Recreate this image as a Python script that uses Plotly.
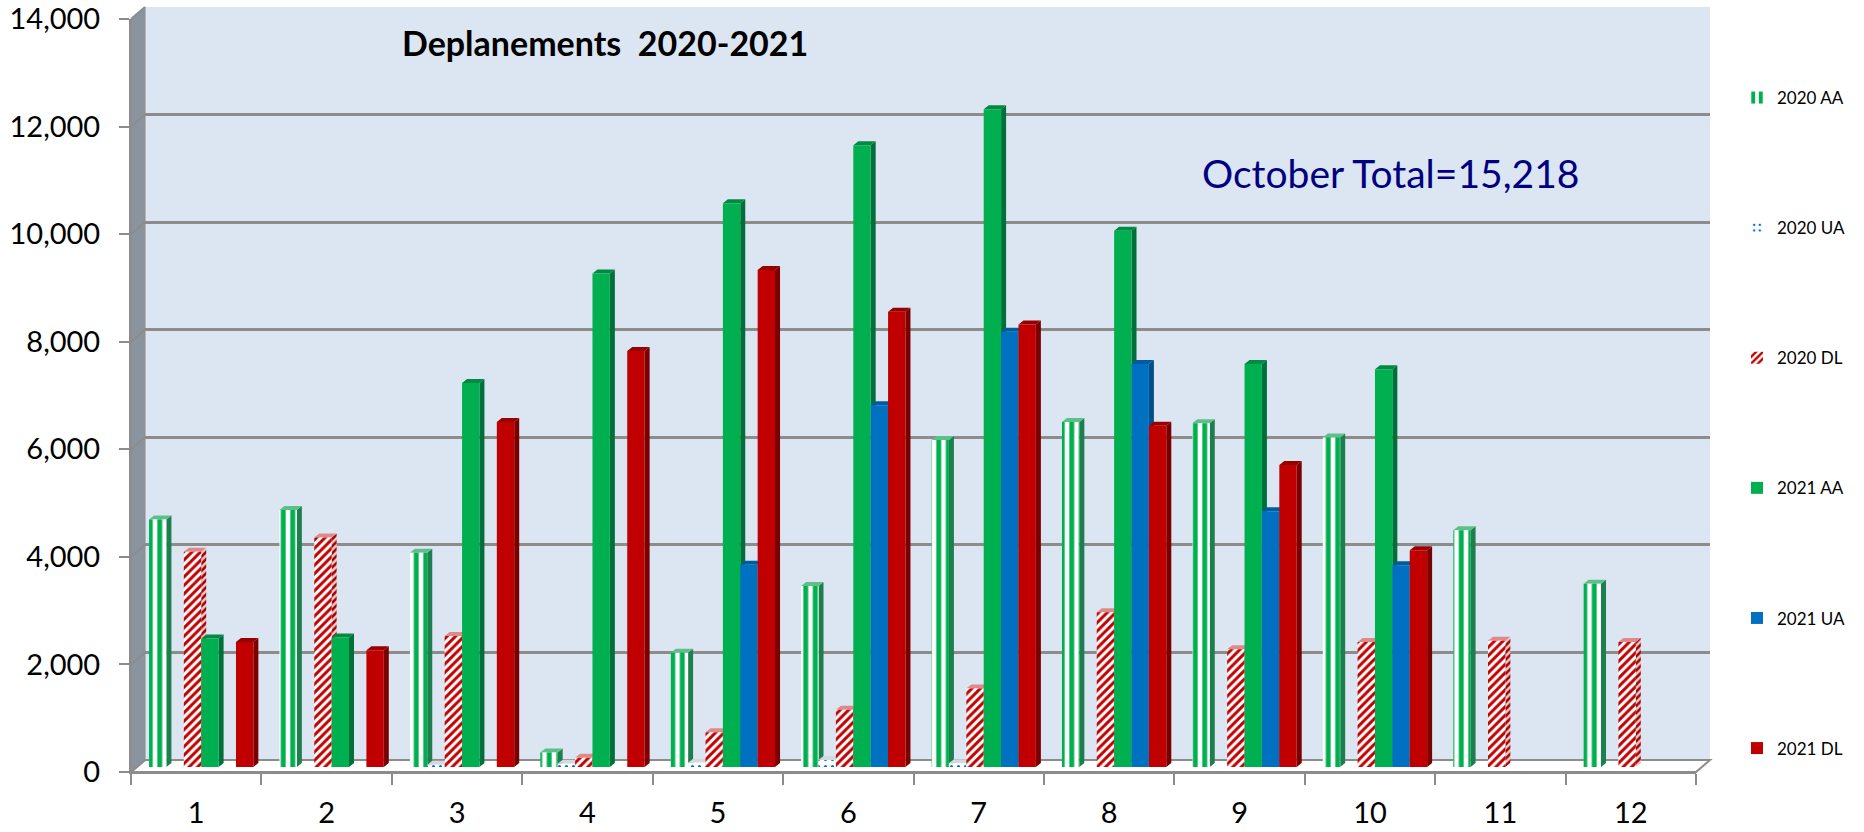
import plotly.graph_objects as go

W, H = 1864, 832
months = list(range(1, 13))
aa_2020 = [4600, 4780, 3985, 270, 2125, 3365, 6080, 6415, 6390, 6125, 4400, 3405]
ua_2020 = [0, 0, 40, 60, 80, 130, 70, 0, 0, 0, 0, 0]
dl_2020 = [4000, 4265, 2435, 170, 645, 1065, 1460, 2875, 2190, 2325, 2345, 2325]
aa_2021 = [2390, 2410, 7140, 9175, 10480, 11560, 12230, 9970, 7495, 7395, None, None]
ua_2021 = [None, None, None, None, 3760, 6725, 8090, 7495, 4755, 3750, None, None]
dl_2021 = [2325, 2170, 6415, 7735, 9240, 8465, 8225, 6345, 5615, 4030, None, None]
y_ticks = list(range(0, 14001, 2000))

GREEN, BLUE, RED = "#00B050", "#0070C0", "#C00000"
series = [
    dict(name="2020 AA", v=aa_2020, fg=GREEN, shape="|", size=9.5, sol=0.52, side="#1E7F4E", top="#5FBF88", sp=None),
    dict(name="2020 UA", v=ua_2020, fg=BLUE, shape=".", size=7, sol=0.15, side="#C8CDD2", top="#D5D8DC", sp=None),
    dict(name="2020 DL", v=dl_2020, fg=RED, shape="/", size=6, sol=0.5, side="#F0C8C8", top="#DE8A8A", sp="#A00000"),
    dict(name="2021 AA", v=aa_2021, fg=GREEN, shape="", size=0, sol=0, side="#00703A", top="#008A42", sp=None),
    dict(name="2021 UA", v=ua_2021, fg=BLUE, shape="", size=0, sol=0, side="#004F8A", top="#005C9E", sp=None),
    dict(name="2021 DL", v=dl_2021, fg=RED, shape="", size=0, sol=0, side="#7A0000", top="#980000", sp=None),
]

# layout geometry (pixels of the 3-D look)
FX0, FX1, FY0, FY1 = 131, 1696, 772, 19     # front plane
BX0, BX1, BY0, BY1 = 145, 1710, 760, 7      # back wall
MX0, MX1, MY0, MY1 = 136, 1701, 767, 14     # plane of the bars
DEPTH_X, DEPTH_Y = 5, 4                     # bar depth, pixels
GROUP, N = 0.8, 6
bw = GROUP / N
dx = DEPTH_X / ((MX1 - MX0) / 12)
dy = DEPTH_Y / ((MY0 - MY1) / 14000)


def px(x): return x / W
def py(y): return 1 - y / H


fig = go.Figure()
# back wall gridlines
fig.add_trace(go.Scatter(x=[0], y=[0], xaxis="x", yaxis="y", mode="markers",
                         marker=dict(opacity=0), showlegend=False, hoverinfo="skip"))

# side and top faces, below every front face
for i, s in enumerate(series):
    sx, sy, tx, ty = [], [], [], []
    for m, v in zip(months, s["v"]):
        if not v:
            continue
        xl = m - GROUP / 2 + i * bw
        xr = xl + bw
        sx += [xr, xr + dx, xr + dx, xr, xr, None]
        sy += [0, dy, v + dy, v, 0, None]
        tx += [xl, xl + dx, xr + dx, xr, xl, None]
        ty += [v, v + dy, v + dy, v, v, None]
    side_kw = {}
    if s["sp"]:
        side_kw["fillpattern"] = dict(shape="/", fgcolor=s["sp"], bgcolor=s["side"], size=5,
                                      solidity=0.5, fillmode="replace")
    fig.add_trace(go.Scatter(x=sx, y=sy, xaxis="x2", yaxis="y2", mode="lines", fill="toself",
                             fillcolor=s["side"], line=dict(width=0), showlegend=False,
                             hoverinfo="skip", **side_kw))
    fig.add_trace(go.Scatter(x=tx, y=ty, xaxis="x2", yaxis="y2", mode="lines", fill="toself",
                             fillcolor=s["top"], line=dict(width=0), showlegend=False,
                             hoverinfo="skip"))

# front faces
for s in series:
    pattern = dict(shape=s["shape"], fgcolor=s["fg"], bgcolor="white", size=s["size"],
                   solidity=s["sol"], fillmode="replace") if s["shape"] else None
    marker = dict(color=s["fg"], line=dict(width=0))
    if pattern:
        marker = dict(color="white", pattern=pattern, line=dict(width=0))
    fig.add_trace(go.Bar(x=months, y=s["v"], name=s["name"], xaxis="x3", yaxis="y3",
                         marker=marker, legendgroup=s["name"]))

# front axes
fig.add_trace(go.Scatter(x=[1], y=[0], xaxis="x4", yaxis="y4", mode="markers",
                         marker=dict(opacity=0), showlegend=False, hoverinfo="skip"))

hidden = dict(visible=False, showgrid=False, zeroline=False)
common_y = dict(range=[0, 14000], zeroline=False)
GRID = "#8C8C8C"

shapes = [
    # back wall
    dict(type="rect", xref="paper", yref="paper", x0=px(BX0), x1=px(BX1), y0=py(BY0), y1=py(BY1),
         fillcolor="#DCE6F2", line=dict(width=0), layer="below"),
    # left wall
    dict(type="path", xref="paper", yref="paper",
         path=f"M{px(FX0)},{py(FY1)} L{px(BX0)},{py(BY1)} L{px(BX0)},{py(BY0)} L{px(FX0)},{py(FY0)} Z",
         fillcolor="#8A949E", line=dict(color=GRID, width=1), layer="below"),
    # floor
    dict(type="path", xref="paper", yref="paper",
         path=f"M{px(FX0)},{py(FY0)} L{px(BX0)},{py(BY0)} L{px(BX1)},{py(BY0)} L{px(FX1)},{py(FY0)} Z",
         fillcolor="white", line=dict(color=GRID, width=2), layer="below"),
]
for t in y_ticks:
    f = FY0 + (FY1 - FY0) * t / 14000
    b = BY0 + (BY1 - BY0) * t / 14000
    shapes.append(dict(type="line", xref="paper", yref="paper", x0=px(FX0), x1=px(BX0), y0=py(f), y1=py(b),
                       line=dict(color=GRID, width=2), layer="below"))

fig.update_layout(
    template="none",
    width=W, height=H, autosize=False,
    margin=dict(l=0, r=0, t=0, b=0),
    paper_bgcolor="white", plot_bgcolor="rgba(0,0,0,0)",
    font=dict(family="Lato", color="black"),
    barmode="group", bargap=1 - GROUP, bargroupgap=0,
    shapes=shapes,
    xaxis=dict(domain=[px(BX0), px(BX1)], range=[0.5, 12.5], anchor="y", automargin=False, **hidden),
    yaxis=dict(domain=[py(BY0), py(BY1)], anchor="x", tickvals=y_ticks, showgrid=True, gridcolor=GRID,
               gridwidth=2.5, showticklabels=False, ticks="", showline=False, automargin=False, **common_y),
    xaxis2=dict(domain=[px(MX0), px(MX1)], range=[0.5, 12.5], anchor="y2", automargin=False, **hidden),
    yaxis2=dict(domain=[py(MY0), py(MY1)], anchor="x2", range=[0, 14000], automargin=False, **hidden),
    xaxis3=dict(domain=[px(MX0), px(MX1)], range=[0.5, 12.5], anchor="y3", automargin=False, **hidden),
    yaxis3=dict(domain=[py(MY0), py(MY1)], anchor="x3", range=[0, 14000], automargin=False, **hidden),
    xaxis4=dict(domain=[px(FX0), px(FX1)], range=[0.5, 12.5], anchor="y4", tickvals=months,
                ticktext=[str(m) for m in months], ticks="", showgrid=False, zeroline=False, automargin=False,
                showline=True, linecolor=GRID, linewidth=2, tickfont=dict(size=29),
                ticklabelstandoff=14,
                minor=dict(tickvals=[m - 0.5 for m in months] + [12.5], ticks="outside", ticklen=11,
                           tickcolor=GRID, tickwidth=2, showgrid=False)),
    yaxis4=dict(domain=[py(FY0), py(FY1)], anchor="x4", tickvals=y_ticks, tickformat=",", ticks="outside",
                ticklen=10, tickcolor=GRID, tickwidth=2, showgrid=False, showline=True, linecolor=GRID,
                linewidth=2, tickfont=dict(size=29), ticklabelstandoff=13, automargin=False, **common_y),
    legend=dict(x=px(1737), y=py(423), xanchor="left", yanchor="middle", tracegroupgap=105,
                font=dict(size=17), bgcolor="rgba(0,0,0,0)", itemclick=False, itemdoubleclick=False),
    annotations=[
        dict(text="<b>Deplanements  2020-2021</b>", xref="paper", yref="paper", x=px(605), y=py(42),
             showarrow=False, font=dict(size=34, color="black"), xanchor="center", yanchor="middle"),
        dict(text="October Total=15,218", xref="paper", yref="paper", x=px(1390), y=py(173),
             showarrow=False, font=dict(size=39, color="#000080"), xanchor="center", yanchor="middle"),
    ],
)

fig.write_html("out.html", post_script="document.body.style.margin='0';", config=dict(displayModeBar=False))
